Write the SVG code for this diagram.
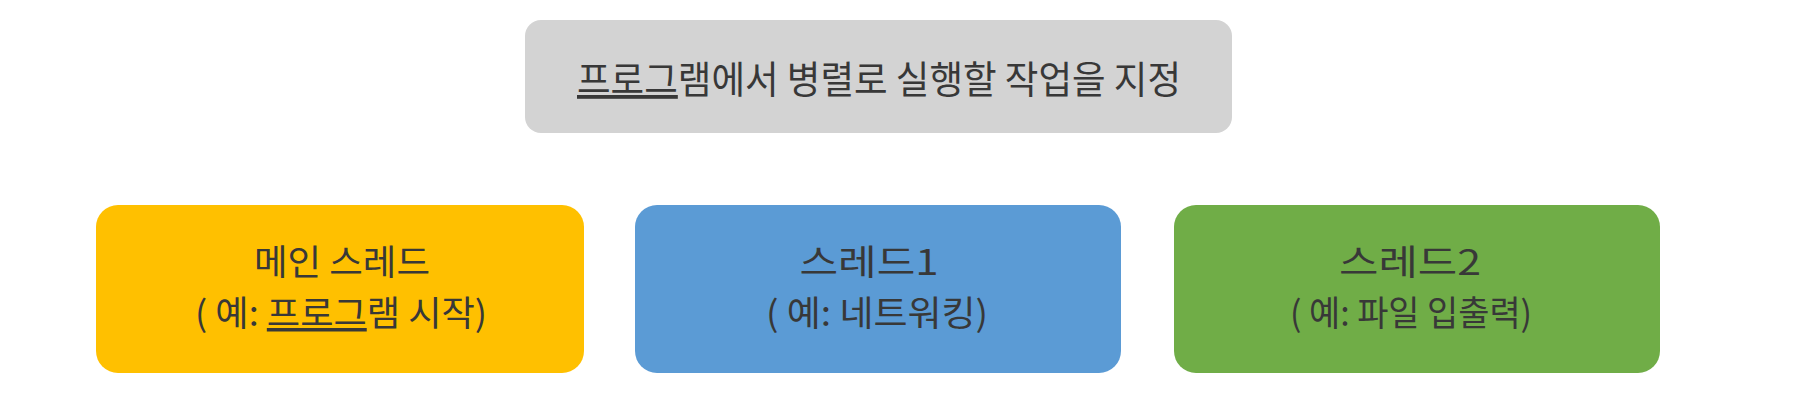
<svg xmlns="http://www.w3.org/2000/svg" width="1798" height="410" viewBox="0 0 1798 410">
<style>
text{font-family:"Noto Sans CJK KR","Noto Sans",sans-serif;fill:#383838;text-anchor:middle}
.t{font-size:38px}
.b{font-size:35px}
.u{text-decoration:underline}
</style>
<rect width="1798" height="410" fill="#fff"/>
<g id="top">
<rect x="525" y="20" width="707" height="113" rx="16" fill="#d3d3d3"/>
<text class="t" x="879" y="93" textLength="604" lengthAdjust="spacingAndGlyphs"><tspan class="u">프로그</tspan>램에서 병렬로 실행할 작업을 지정</text>
</g>
<g id="main">
<rect x="96" y="205" width="488" height="168" rx="22" fill="#ffc000"/>
<text class="b" x="342" y="275" textLength="176" lengthAdjust="spacingAndGlyphs">메인 스레드</text>
<text class="b" x="341" y="326" textLength="292" lengthAdjust="spacingAndGlyphs">( 예: <tspan class="u">프로그</tspan>램 시작)</text>
</g>
<g id="thread1">
<rect x="635" y="205" width="486" height="168" rx="22" fill="#5b9bd5"/>
<text class="b" x="869" y="275" textLength="139" lengthAdjust="spacingAndGlyphs">스레드1</text>
<text class="b" x="877" y="326" textLength="222" lengthAdjust="spacingAndGlyphs">( 예: 네트워킹)</text>
</g>
<g id="thread2">
<rect x="1174" y="205" width="486" height="168" rx="22" fill="#70ad47"/>
<text class="b" x="1410" y="275" textLength="142" lengthAdjust="spacingAndGlyphs">스레드2</text>
<text class="b" x="1411" y="326" textLength="242" lengthAdjust="spacingAndGlyphs">( 예: 파일 입출력)</text>
</g>
<g id="connectors"></g>
</svg>
